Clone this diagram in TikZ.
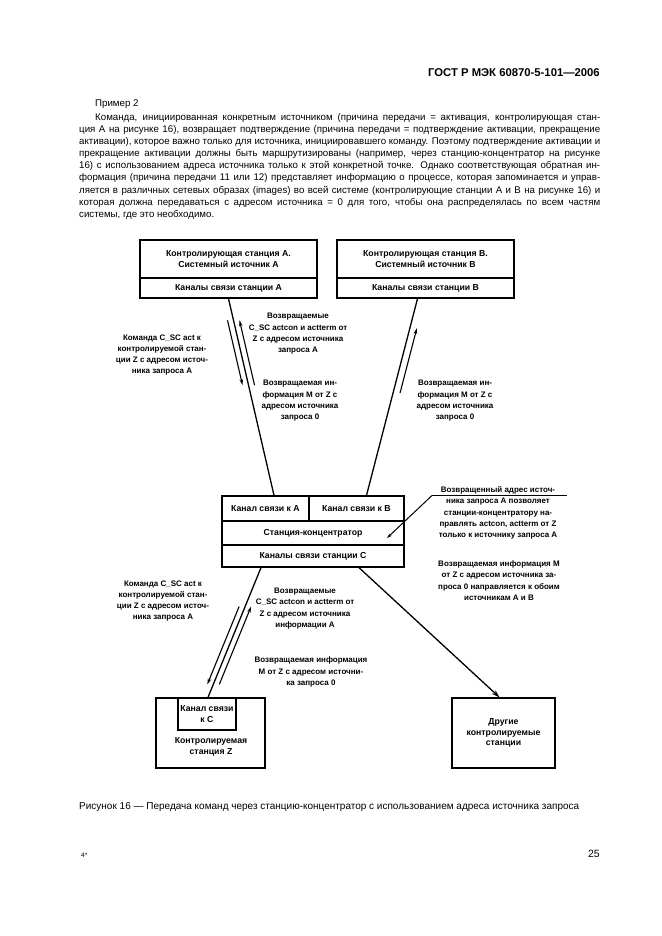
\documentclass[tikz,border=0pt]{standalone}
\usepackage{fontspec}
\setmainfont{Liberation Sans}
\usetikzlibrary{positioning,arrows.meta}

\tikzstyle{stbox} = [draw=black, line width=1.3pt, rectangle, inner sep=0pt,
    align=center, font=\fontsize{8.7}{10.5}\selectfont\bfseries]
\tikzstyle{lbl} = [align=center, inner sep=0pt, font=\fontsize{8}{11.3}\selectfont\bfseries]
\tikzstyle{bodyline} = [anchor=base west, inner sep=0pt, font=\fontsize{9.7}{12}\selectfont]
\tikzstyle{link} = [line width=1.3pt]
\tikzstyle{msg} = [line width=1.1pt, -{Stealth[length=6pt,width=3.5pt]}]
\newcommand{\jl}[1]{\makebox[521pt][s]{#1}}

\begin{document}
\begin{tikzpicture}[x=1pt,y=-1pt]
                \useasboundingbox (0,0) rectangle (661,936);
                % page head and text
                \node[anchor=base east, inner sep=0pt, font=\fontsize{11.3}{13}\selectfont\bfseries] (gost) at (600,77) {ГОСТ Р МЭК 60870-5-101—2006};
                \node[bodyline] (ex) at (95,106.5) {Пример 2};
                \node[bodyline] (t1) at (95,120.5) {\makebox[505pt][s]{Команда, инициированная конкретным источником (причина передачи = активация, контролирующая стан-}};
                \node[bodyline] (t2) at (79,132.6) {\jl{ция А на рисунке 16), возвращает подтверждение (причина передачи = подтверждение активации, прекращение}};
                \node[bodyline] (t3) at (79,144.7) {\jl{активации), которое важно только для источника, инициировавшего команду. Поэтому подтверждение активации и}};
                \node[bodyline] (t4) at (79,156.8) {\jl{прекращение активации должны быть маршрутизированы (например, через станцию-концентратор на рисунке}};
                \node[bodyline] (t5) at (79,168.9) {\jl{16) с использованием адреса источника только к этой конкретной точке. Однако соответствующая обратная ин-}};
                \node[bodyline] (t6) at (79,181.0) {\jl{формация (причина передачи 11 или 12) представляет информацию о процессе, которая запоминается и управ-}};
                \node[bodyline] (t7) at (79,193.1) {\jl{ляется в различных сетевых образах (images) во всей системе (контролирующие станции А и В на рисунке 16) и}};
                \node[bodyline] (t8) at (79,205.2) {\jl{которая должна передаваться с адресом источника = 0 для того, чтобы она распределялась по всем частям}};
                \node[bodyline] (t9) at (79,217.3) {системы, где это необходимо.};

                % stations A and B
                \node[stbox, minimum width=177pt, minimum height=38pt] (ctrlA) at (228.5,259) {Контролирующая станция А.\\Системный источник А};
                \node[stbox, minimum width=177pt, minimum height=20pt] (chanA) at (228.5,288) {Каналы связи станции А};
                \node[stbox, minimum width=177pt, minimum height=38pt] (ctrlB) at (425.5,259) {Контролирующая станция В.\\Системный источник В};
                \node[stbox, minimum width=177pt, minimum height=20pt] (chanB) at (425.5,288) {Каналы связи станции В};

                % concentrator
                \node[stbox, minimum width=87pt, minimum height=25pt] (linkA) at (265.5,508.5) {Канал связи к А};
                \node[stbox, minimum width=95pt, minimum height=25pt] (linkB) at (356.5,508.5) {Канал связи к В};
                \node[stbox, minimum width=182pt, minimum height=24pt] (hubst) at (313,533) {Станция-концентратор};
                \node[stbox, minimum width=182pt, minimum height=22pt] (chanC) at (313,556) {Каналы связи станции С};

                % controlled stations
                \node[stbox, minimum width=109pt, minimum height=70pt] (statZ) at (210.5,733) {};
                \node[stbox, minimum width=58pt, minimum height=32pt] (kanC) at (207,714) {Канал связи\\к С};
                \node[lbl, font=\fontsize{8.7}{11}\selectfont\bfseries] (nameZ) at (211,746.5) {Контролируемая\\станция Z};
                \node[stbox, minimum width=103pt, minimum height=70pt] (others) at (503.5,733) {Другие\\контролируемые\\станции};

                % connectors
                \draw[link] (chanA.south) -- ([xshift=8.5pt]linkA.north) coordinate[pos=.11] (a1) coordinate[pos=.44] (a2);
                \draw[link] ([xshift=-8pt]chanB.south) -- ([xshift=10pt]linkB.north) coordinate[pos=.15] (b1) coordinate[pos=.48] (b2);
                \draw[link] ([xshift=-52pt]chanC.south) -- ([xshift=1pt]kanC.north) coordinate[pos=.3] (z1) coordinate[pos=.9] (z2);
                \draw[link, -{Stealth[length=8pt,width=5pt]}] ([xshift=46pt]chanC.south) -- ([xshift=-4pt]others.north);

                \draw[msg] ([xshift=-6pt]a1) -- ([xshift=-6pt]a2);
                \draw[msg] ([xshift=6pt]a2) -- ([xshift=6pt]a1);
                \draw[msg] ([xshift=7pt]b2) -- ([xshift=7pt]b1);
                \draw[msg] ([xshift=-6pt]z1) -- ([xshift=-6pt]z2);
                \draw[msg] ([xshift=6pt]z2) -- ([xshift=6pt]z1);

                % labels
                \node[lbl] (actA) at (298,334) {Возвращаемые\\C\_SC actcon и actterm от\\Z с адресом источника\\запроса А};
                \node[lbl] (cmdA) at (162,355) {Команда C\_SC act к\\контролируемой стан-\\ции Z с адресом источ-\\ника запроса А};
                \node[lbl] (infA) at (300,401) {Возвращаемая ин-\\формация М от Z с\\адресом источника\\запроса 0};
                \node[lbl] (infB) at (455,401) {Возвращаемая ин-\\формация М от Z с\\адресом источника\\запроса 0};

                \node[lbl] (note1) at (498,513) {Возвращенный адрес источ-\\ника запроса А позволяет\\станции-концентратору на-\\правлять actcon, actterm от Z\\только к источнику запроса А};
                \coordinate (ptr) at (432,495.5);
                \draw[line width=1pt] (ptr) -- (567,495.5);
                \draw[line width=1pt, -{Stealth[length=5pt,width=3pt]}] (ptr) -- ([xshift=74pt,yshift=-5pt]hubst.center);
                \node[lbl] (note2) at (499,580.5) {Возвращаемая информация М\\от Z с адресом источника за-\\проса 0 направляется к обоим\\источникам А и В};

                \node[lbl] (cmdZ) at (163,601) {Команда C\_SC act к\\контролируемой стан-\\ции Z с адресом источ-\\ника запроса А};
                \node[lbl] (actZ) at (305,608.5) {Возвращаемые\\C\_SC actcon и actterm от\\Z с адресом источника\\информации А};
                \node[lbl] (infZ) at (311,672) {Возвращаемая информация\\М от Z с адресом источни-\\ка запроса 0};

                % caption and page foot
                \node[bodyline, font=\fontsize{10}{12}\selectfont] (cap) at (79,809) {Рисунок 16 — Передача команд через станцию-концентратор с использованием адреса источника запроса};
                \node[anchor=base west, inner sep=0pt, font=\fontsize{6.5}{8}\selectfont] (foot) at (81,857) {4*};
                \node[anchor=base east, inner sep=0pt, font=\fontsize{10.5}{12}\selectfont] (page) at (600,857) {25};
\end{tikzpicture}
\end{document}
